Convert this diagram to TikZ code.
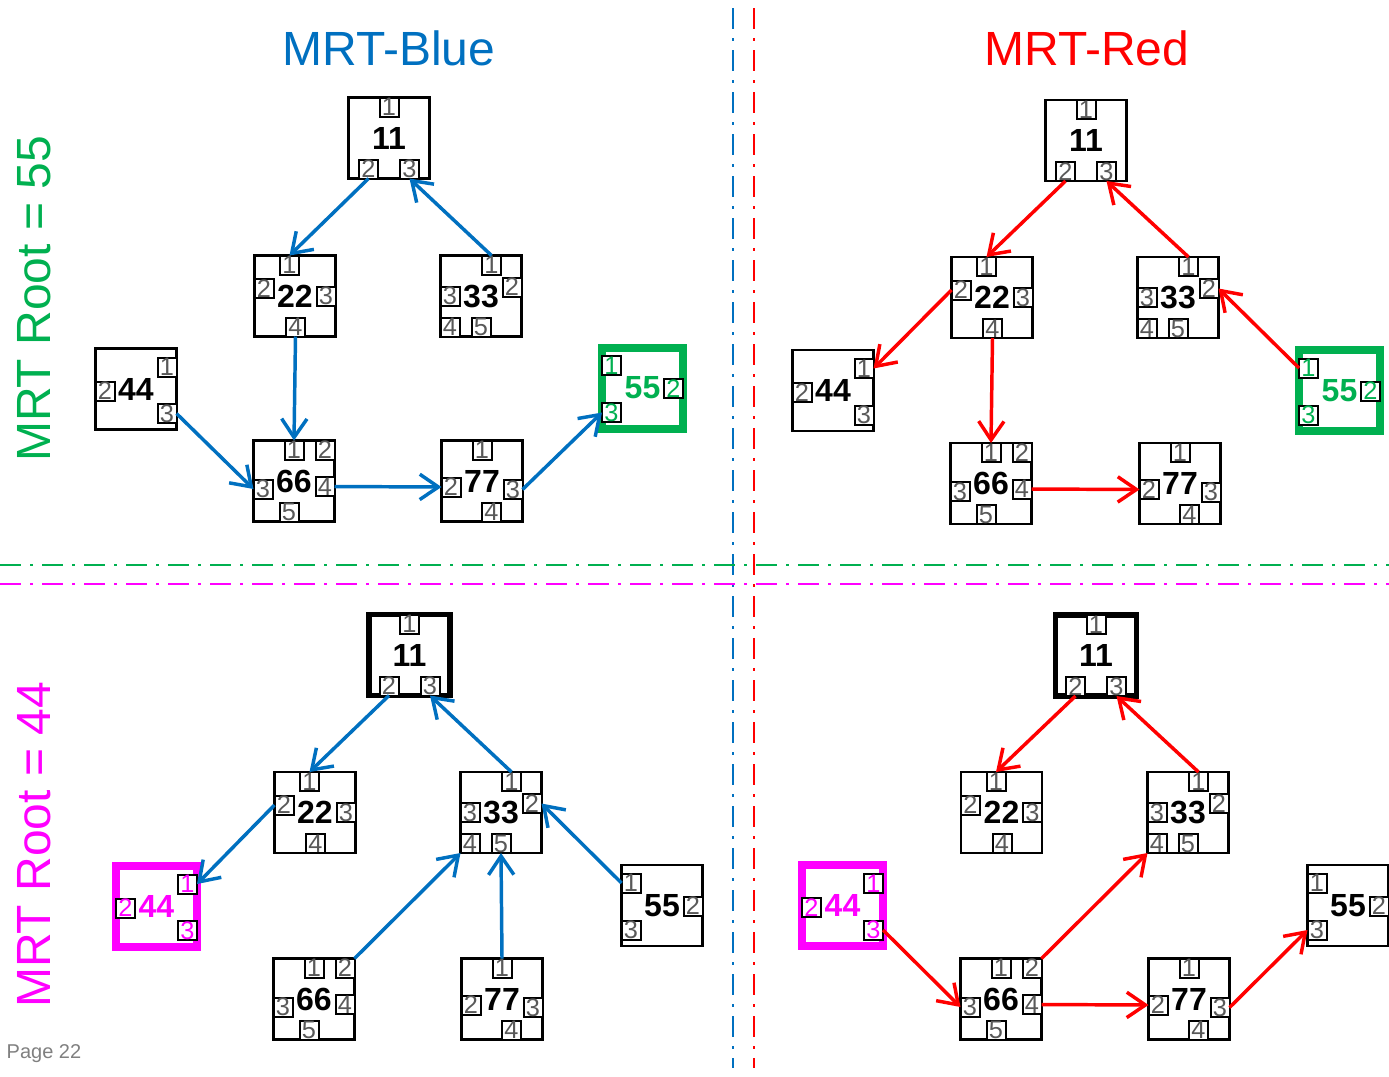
\documentclass[tikz,border=0pt]{standalone}
\usepackage{fontspec}
\setmainfont{Liberation Sans}
\usetikzlibrary{arrows.meta}
\definecolor{mblue}{HTML}{0070C0}
\definecolor{mred}{HTML}{FF0000}
\definecolor{mgreen}{HTML}{00B050}
\definecolor{mmag}{HTML}{FF00FF}
\definecolor{pgray}{HTML}{595959}
\definecolor{pagegray}{HTML}{808080}
% port: #1 parent, #2 dx, #3 dy, #4 digit, #5 extra style
\newcommand\mrtp[5]{\node[port,#5] (#1p#4) at ([shift={(#2,#3)}]#1.center) {#4};}
\newcommand\tXI[2]{\mrtp{#1}{0}{-31}{1}{#2}\mrtp{#1}{-20.5}{31}{2}{#2}\mrtp{#1}{20.5}{31}{3}{#2}}
\newcommand\tXXII[2]{\mrtp{#1}{-5.5}{-31}{1}{#2}\mrtp{#1}{-31}{-7.5}{2}{#2}\mrtp{#1}{31}{0}{3}{#2}\mrtp{#1}{0.5}{31}{4}{#2}}
\newcommand\tXXXIII[2]{\mrtp{#1}{10.5}{-31}{1}{#2}\mrtp{#1}{31}{-9}{2}{#2}\mrtp{#1}{-31}{0}{3}{#2}\mrtp{#1}{-31}{31}{4}{#2}\mrtp{#1}{0}{31}{5}{#2}}
\newcommand\tXLIV[2]{\mrtp{#1}{31}{-22}{1}{#2}\mrtp{#1}{-31}{2}{2}{#2}\mrtp{#1}{31}{24.5}{3}{#2}}
\newcommand\tLV[2]{\mrtp{#1}{-31}{-22.5}{1}{#2}\mrtp{#1}{31}{0.5}{2}{#2}\mrtp{#1}{-31}{24.5}{3}{#2}}
\newcommand\tLXVI[2]{\mrtp{#1}{0}{-31}{1}{#2}\mrtp{#1}{31}{-31}{2}{#2}\mrtp{#1}{-31}{8}{3}{#2}\mrtp{#1}{31}{5.5}{4}{#2}\mrtp{#1}{-5}{31}{5}{#2}}
\newcommand\tLXXVII[2]{\mrtp{#1}{0}{-31}{1}{#2}\mrtp{#1}{-31}{6}{2}{#2}\mrtp{#1}{31}{8.5}{3}{#2}\mrtp{#1}{9.5}{31}{4}{#2}}
\tikzset{
  nbox/.style={draw, line width=1.9pt, minimum size=60.75pt, inner sep=0pt, outer sep=0pt,
    fill=white, font=\fontsize{24}{24}\selectfont\bfseries},
  greenroot/.style={draw=mgreen, line width=6pt, text=mgreen},
  magroot/.style={draw=mmag, line width=6pt, text=mmag},
  blackroot/.style={line width=3.9pt},
  port/.style={draw, line width=1.5pt, minimum size=14.25pt, inner sep=0pt, outer sep=0pt,
    fill=white, text=pgray, font=\fontsize{19}{19}\selectfont},
  arr/.style={draw=#1, line width=2.6pt, -{Straight Barb[length=14pt,width=19pt]}},
  sep/.style={draw=#1, line width=1.5pt, dash pattern=on 15.75pt off 6.75pt on 2.25pt off 6.75pt},
  title/.style={font=\fontsize{36}{36}\selectfont, inner sep=0pt}
}
\begin{document}
\begin{tikzpicture}[x=0.75pt,y=-0.75pt]
\useasboundingbox (0,0) rectangle (1389,1076);
\fill[white] (0,0) rectangle (1389,1076);
% separators
\draw[sep=mblue] (733,8) -- (733,1068);
\draw[sep=mred] (754,8) -- (754,1068);
\draw[sep=mgreen] (0,565) -- (1389,565);
\draw[sep=mmag] (0,584) -- (1389,584);
% titles
\node[title, text=mblue] (tblue) at (389,48) {MRT-Blue};
\node[title, text=mred] (tred) at (1087,48) {MRT-Red};
\node[title, text=mgreen, rotate=90] (troot55) at (34,299) {MRT Root = 55};
\node[title, text=mmag, rotate=90] (troot44) at (34,845) {MRT Root = 44};
\node[text=pagegray, font=\fontsize{15}{15}\selectfont, inner sep=0pt] (page) at (44,1054) {Page 22};
% ---------- top-left (blue, root 55) ----------
\node[nbox] (a11) at (389,138) {11}; \tXI{a11}{}
\node[nbox] (a22) at (295,296) {22}; \tXXII{a22}{}
\node[nbox] (a33) at (481,296) {33}; \tXXXIII{a33}{}
\node[nbox] (a44) at (136,389) {44}; \tXLIV{a44}{}
\node[nbox] (a66) at (294,481) {66}; \tLXVI{a66}{}
\node[nbox] (a77) at (482,481) {77}; \tLXXVII{a77}{}
\node[nbox,greenroot] (a55) at (642.5,388) {55}; \tLV{a55}{text=mgreen}
\draw[arr=mblue] (a11p2.south) -- (a22p1.north);
\draw[arr=mblue] (a33p1.north) -- (a11p3.south);
\draw[arr=mblue] (a22p4.south) -- (a66p1.north);
\draw[arr=mblue] (a44p3.east) -- (a66p3.west);
\draw[arr=mblue] (a66p4.east) -- (a77p2.west);
\draw[arr=mblue] (a77p3.east) -- (a55p3.west);
% ---------- top-right (red, root 55) ----------
\node[nbox] (b11) at (1086,140.5) {11}; \tXI{b11}{}
\node[nbox] (b22) at (992,297.5) {22}; \tXXII{b22}{}
\node[nbox] (b33) at (1178,297.5) {33}; \tXXXIII{b33}{}
\node[nbox] (b44) at (833,390.5) {44}; \tXLIV{b44}{}
\node[nbox] (b66) at (991,483.5) {66}; \tLXVI{b66}{}
\node[nbox] (b77) at (1180,483.5) {77}; \tLXXVII{b77}{}
\node[nbox,greenroot] (b55) at (1339.5,390.5) {55}; \tLV{b55}{text=mgreen}
\draw[arr=mred] (b11p2.south) -- (b22p1.north);
\draw[arr=mred] (b33p1.north) -- (b11p3.south);
\draw[arr=mred] (b22p2.west) -- (b44p1.east);
\draw[arr=mred] (b22p4.south) -- (b66p1.north);
\draw[arr=mred] (b66p4.east) -- (b77p2.west);
\draw[arr=mred] (b55p1.west) -- (b33p2.east);
% ---------- bottom-left (blue, root 44) ----------
\node[nbox,blackroot] (c11) at (409.5,655) {11}; \tXI{c11}{}
\node[nbox] (c22) at (315,812.5) {22}; \tXXII{c22}{}
\node[nbox] (c33) at (501,812.5) {33}; \tXXXIII{c33}{}
\node[nbox,magroot] (c44) at (156.5,906) {44}; \tXLIV{c44}{text=mmag}
\node[nbox] (c55) at (662,905.5) {55}; \tLV{c55}{}
\node[nbox] (c66) at (314,999) {66}; \tLXVI{c66}{}
\node[nbox] (c77) at (502,999) {77}; \tLXXVII{c77}{}
\draw[arr=mblue] (c11p2.south) -- (c22p1.north);
\draw[arr=mblue] (c33p1.north) -- (c11p3.south);
\draw[arr=mblue] (c22p2.west) -- (c44p1.east);
\draw[arr=mblue] (c66p2.north east) -- (c33p4.south west);
\draw[arr=mblue] (c77p1.north) -- (c33p5.south);
\draw[arr=mblue] (c55p1.west) -- (c33p2.east);
% ---------- bottom-right (red, root 44) ----------
\node[nbox,blackroot] (d11) at (1096,655.5) {11}; \tXI{d11}{}
\node[nbox] (d22) at (1001.5,812.5) {22}; \tXXII{d22}{}
\node[nbox] (d33) at (1188,812.5) {33}; \tXXXIII{d33}{}
\node[nbox,magroot] (d44) at (842.5,905.5) {44}; \tXLIV{d44}{text=mmag}
\node[nbox] (d55) at (1348,905.5) {55}; \tLV{d55}{}
\node[nbox] (d66) at (1001,999) {66}; \tLXVI{d66}{}
\node[nbox] (d77) at (1189,999) {77}; \tLXXVII{d77}{}
\draw[arr=mred] (d11p2.south) -- (d22p1.north);
\draw[arr=mred] (d33p1.north) -- (d11p3.south);
\draw[arr=mred] (d44p3.east) -- (d66p3.west);
\draw[arr=mred] (d66p2.north east) -- (d33p4.south west);
\draw[arr=mred] (d66p4.east) -- (d77p2.west);
\draw[arr=mred] (d77p3.east) -- (d55p3.west);
\end{tikzpicture}
\end{document}
